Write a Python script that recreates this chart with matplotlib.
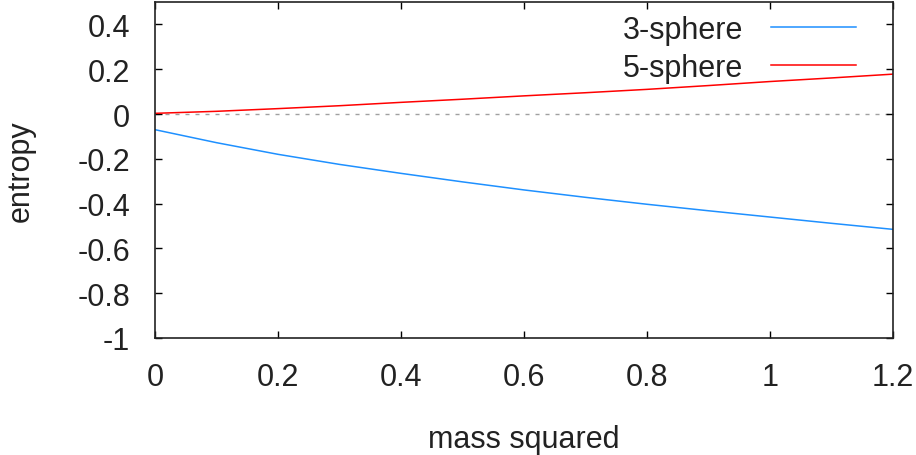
import matplotlib
matplotlib.use("Agg")
import matplotlib.pyplot as plt

# values (mass squared vs entropy)
mass_sq = [0.0, 0.1, 0.2, 0.3, 0.4, 0.5, 0.6, 0.7, 0.8, 0.9, 1.0, 1.1, 1.2]
s3_entropy = [-0.070, -0.128, -0.180, -0.225, -0.265, -0.303, -0.339, -0.372, -0.403, -0.432, -0.460, -0.488, -0.515]
s5_entropy = [0.003, 0.012, 0.024, 0.037, 0.052, 0.066, 0.081, 0.095, 0.110, 0.127, 0.145, 0.161, 0.178]

series_labels = ["3-sphere", "5-sphere"]
x_ticks = [0, 0.2, 0.4, 0.6, 0.8, 1, 1.2]
x_ticklabels = ["0", "0.2", "0.4", "0.6", "0.8", "1", "1.2"]
y_ticks = [-1, -0.8, -0.6, -0.4, -0.2, 0, 0.2, 0.4]
y_ticklabels = ["-1", "-0.8", "-0.6", "-0.4", "-0.2", "0", "0.2", "0.4"]

plt.rcParams['font.family'] = ['Liberation Sans', 'DejaVu Sans']
plt.rcParams['font.size'] = 22

fig = plt.figure(figsize=(9.16, 4.56), dpi=100)
ax = fig.add_axes([0.1692, 0.2566, 0.8057, 0.7368])

ax.axhline(0, color="#a0a0a0", lw=1.0, dashes=(2.9, 4.3), zorder=1)
ax.plot(mass_sq, s3_entropy, color="#1e90ff", lw=1.1, label=series_labels[0])
ax.plot(mass_sq, s5_entropy, color="#ff0000", lw=1.1, label=series_labels[1])

ax.set_xlim(0, 1.2)
ax.set_ylim(-1, 0.5)
ax.set_xticks(x_ticks)
ax.set_xticklabels(x_ticklabels)
ax.set_yticks(y_ticks)
ax.set_yticklabels(y_ticklabels)
ax.tick_params(direction="in", length=5, width=1, top=True, right=True,
               colors="black", labelcolor="#222222")
ax.tick_params(axis="x", pad=17)
ax.tick_params(axis="y", pad=18)
for sp in ax.spines.values():
    sp.set_linewidth(1.2)
    sp.set_color("#222222")

ax.set_xlabel("mass squared", color="#222222", labelpad=23)
ax.set_ylabel("entropy", color="#222222", labelpad=30)

leg = ax.legend(loc="upper right", frameon=False, markerfirst=False,
                handlelength=2.77, handletextpad=0.9, labelspacing=0.25,
                borderaxespad=0.0, bbox_to_anchor=(0.966, 0.998))
for t in leg.get_texts():
    t.set_color("#222222")

fig.savefig("out.png", dpi=100)
